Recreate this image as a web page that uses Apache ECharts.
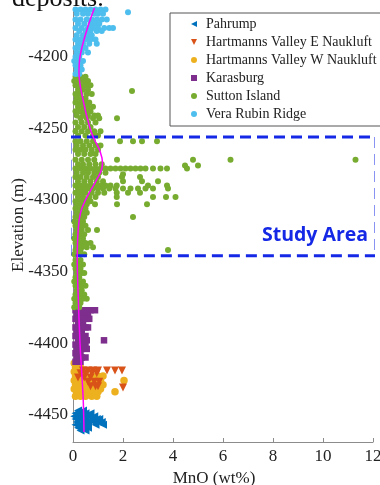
<!DOCTYPE html>
<html>
<head>
<meta charset="utf-8">
<script src="https://cdn.jsdelivr.net/npm/echarts@6/dist/echarts.min.js"></script>
<style>
  html, body { margin: 0; padding: 0; background: #fff; }
  #chart { width: 380px; height: 485px; }
</style>
</head>
<body>
<div id="chart"></div>
<script>
// rows: [elevation, [MnO values at that elevation]]
const pahrumpRows = [
  [-4447, [0.2, 0.4]],
  [-4449, [0.1, 0.3, 0.5, 0.7]],
  [-4451, [0.05, 0.25, 0.45, 0.65, 0.85]],
  [-4453, [0.1, 0.3, 0.5, 0.75, 0.95, 1.05]],
  [-4455, [0.15, 0.4, 0.6, 0.8, 1.0, 1.15]],
  [-4457, [0.1, 0.3, 0.55, 0.9, 1.2]],
  [-4459, [0.2, 0.4, 0.6]],
  [-4461, [0.3, 0.5]]
];
const hvEastRows = [
  [-4419, [0.4, 0.6, 0.8, 1.0, 1.36, 1.68, 1.96]],
  [-4421, [0.3, 0.5, 0.75, 0.95]],
  [-4424, [0.2, 0.45, 0.7]],
  [-4427, [0.6, 0.85, 1.05]],
  [-4430, [0.7, 0.9, 1.0]],
  [-4431, [2.0]]
];
const hvWestRows = [
  [-4414, [0.05, 0.25]],
  [-4417, [0.1, 0.3]],
  [-4420, [0.05, 0.2]],
  [-4423, [0.1, 0.3, 0.5, 0.8, 1.0, 1.2]],
  [-4426, [0.05, 0.25, 0.45, 0.65, 0.9, 1.1, 2.04]],
  [-4429, [0.1, 0.3, 0.5, 0.7, 0.95, 1.2]],
  [-4432, [0.05, 0.25, 0.45, 0.7, 0.9, 1.1]],
  [-4434, [0.15, 0.35, 0.6, 0.85, 1.0, 1.68]],
  [-4437, [0.1, 0.3, 0.5, 0.75, 0.95]]
];
const karasburgRows = [
  [-4377, [0.1, 0.3, 0.5, 0.7, 0.88]],
  [-4380, [0.15, 0.4, 0.6]],
  [-4383, [0.1, 0.3, 0.5, 0.65]],
  [-4386, [0.2, 0.4]],
  [-4389, [0.1, 0.3, 0.5, 0.6]],
  [-4392, [0.15, 0.35]],
  [-4395, [0.1, 0.3, 0.5]],
  [-4398, [0.2, 0.4, 0.55, 1.24]],
  [-4401, [0.1, 0.3, 0.5]],
  [-4404, [0.15, 0.35, 0.55]],
  [-4407, [0.1, 0.3]],
  [-4410, [0.15, 0.35, 0.5]],
  [-4413, [0.1, 0.3]]
];
const suttonRows = [
  [-4214, [0.1, 0.3, 0.5]],
  [-4217, [0.05, 0.25, 0.45, 0.6]],
  [-4220, [0.1, 0.3, 0.5, 0.7]],
  [-4223, [0.2, 0.4, 0.6]],
  [-4224, [2.36]],
  [-4226, [0.1, 0.3, 0.55, 0.75]],
  [-4229, [0.15, 0.35, 0.5]],
  [-4232, [0.1, 0.3, 0.5, 0.65]],
  [-4235, [0.2, 0.4, 0.6, 0.8]],
  [-4238, [0.1, 0.3, 0.5, 0.7]],
  [-4241, [0.15, 0.4, 0.6, 0.85, 1.0]],
  [-4243, [0.3, 0.55, 0.8, 1.05, 1.76]],
  [-4246, [0.1, 0.35, 0.6, 0.9]],
  [-4249, [0.2, 0.45, 0.7]],
  [-4252, [0.1, 0.35, 0.6, 0.85, 1.1]],
  [-4255, [0.2, 0.5, 0.8, 1.0]],
  [-4259, [0.1, 0.3, 0.55, 0.8, 1.88, 2.4, 2.76, 3.36]],
  [-4262, [0.15, 0.4, 0.65, 0.9, 1.1]],
  [-4265, [0.1, 0.3, 0.5, 0.75, 1.0]],
  [-4268, [0.2, 0.45, 0.7, 0.9]],
  [-4272, [0.1, 0.35, 0.6, 0.85, 1.76, 4.8, 6.3, 11.3]],
  [-4275, [0.2, 0.4, 0.65, 0.9, 1.15]],
  [-4278, [0.1, 0.3, 0.5, 0.7, 0.9, 1.1, 1.3, 1.5, 1.7, 1.9, 2.1, 2.3, 2.5, 2.7, 2.9, 3.2, 3.5, 3.76, 4.56]],
  [-4276, [4.48, 5.0]],
  [-4281, [0.15, 0.4, 0.6, 0.85, 1.05, 1.3]],
  [-4282, [2.0]],
  [-4284, [0.1, 0.3, 0.55, 0.8, 1.0, 1.96, 2.68]],
  [-4287, [0.2, 0.45, 0.7, 0.95, 1.2, 2.0, 2.76, 3.4]],
  [-4290, [0.1, 0.3, 0.5, 0.7, 0.9, 1.1, 1.3, 1.5, 1.75, 3.0, 3.76]],
  [-4292, [0.2, 0.4, 0.6, 0.8, 1.0, 1.2, 1.45, 1.7, 2.0, 2.3, 2.6, 2.9, 3.2, 3.8]],
  [-4295, [0.1, 0.3, 0.5, 0.75, 1.0, 1.25, 1.75, 2.2, 2.68]],
  [-4298, [0.2, 0.4, 0.65, 0.9, 1.75, 3.2, 3.72, 4.1]],
  [-4301, [0.1, 0.3, 0.5, 0.7]],
  [-4303, [0.15, 0.35, 0.55, 0.88, 1.76, 2.96]],
  [-4306, [0.1, 0.3, 0.5]],
  [-4309, [0.15, 0.35, 0.55]],
  [-4312, [0.1, 0.3, 0.45, 2.4]],
  [-4315, [0.05, 0.25, 0.4]],
  [-4318, [0.1, 0.3, 0.5]],
  [-4321, [0.15, 0.35, 0.6, 0.96]],
  [-4324, [0.1, 0.3, 0.45]],
  [-4327, [0.05, 0.2, 0.4]],
  [-4330, [0.1, 0.3, 0.5, 0.7]],
  [-4333, [0.15, 0.35, 0.55, 0.8]],
  [-4335, [0.1, 0.3, 3.8]],
  [-4338, [0.05, 0.25, 0.45]],
  [-4342, [0.1, 0.3]],
  [-4345, [0.05, 0.2, 0.4]],
  [-4348, [0.1, 0.3]],
  [-4351, [0.15, 0.35, 0.45]],
  [-4354, [0.1, 0.25]],
  [-4357, [0.05, 0.2, 0.4]],
  [-4360, [0.1, 0.3, 0.5]],
  [-4363, [0.15, 0.35]],
  [-4366, [0.1, 0.3, 0.45]],
  [-4369, [0.05, 0.2, 0.4, 0.55]],
  [-4372, [0.1, 0.3]],
  [-4375, [0.05, 0.25]]
];
const veraRubinRows = [
  [-4167, [0.1, 0.3, 0.5, 0.7, 0.9, 1.1, 1.3]],
  [-4169, [2.2]],
  [-4170, [0.15, 0.4, 0.6, 0.85, 1.0, 1.2]],
  [-4174, [0.1, 0.3, 0.55, 0.75, 0.95, 1.15, 1.35]],
  [-4177, [0.2, 0.45, 0.7, 0.9, 1.05]],
  [-4180, [0.1, 0.35, 0.6, 0.8, 1.0, 1.25, 1.45, 1.6]],
  [-4182, [0.25, 0.5, 0.7, 0.95, 1.15]],
  [-4185, [0.15, 0.4, 0.6, 0.75]],
  [-4188, [0.1, 0.3, 0.5, 0.7, 0.9]],
  [-4191, [0.2, 0.4, 0.65, 0.95]],
  [-4194, [0.1, 0.3, 0.5]],
  [-4197, [0.15, 0.35, 0.6]],
  [-4200, [0.1, 0.25]],
  [-4203, [0.05, 0.2, 0.4]],
  [-4206, [0.1, 0.3]],
  [-4209, [0.15, 0.35]],
  [-4212, [0.1, 0.25]]
];
// smoothed trend [MnO, elevation]
const trendLine = [
  [0.86, -4166], [0.56, -4181], [0.28, -4200], [0.24, -4211], [0.40, -4230],
  [0.68, -4250], [0.86, -4258], [1.08, -4266], [1.18, -4274], [1.12, -4280],
  [0.88, -4288], [0.50, -4300], [0.30, -4309], [0.20, -4323], [0.17, -4342],
  [0.20, -4363], [0.28, -4400], [0.35, -4421], [0.41, -4440], [0.44, -4462]
];
const studyArea = [[-0.12, -4256], [12.12, -4256], [12.12, -4339], [-0.12, -4339], [-0.12, -4256]];
const xTicks = [0, 2, 4, 6, 8, 10, 12];
const yTicks = [-4450, -4400, -4350, -4300, -4250, -4200];

const toPoints = rows => rows.flatMap(([e, xs]) => xs.map(x => [x, e]));

const serif = 'Liberation Serif, Times New Roman, serif';
const leftTri = 'path://M2,0 L2,2 L0,1 Z';
const downTri = 'path://M0,0 L2,0 L1,2 Z';

const chart = echarts.init(document.getElementById('chart'));

const scatter = (name, rows, symbol, size, color) => ({
  name,
  type: 'scatter',
  data: toPoints(rows),
  symbol,
  symbolSize: size,
  itemStyle: { color, opacity: 1 },
  animation: false
});

chart.setOption({
  animation: false,
  grid: { left: 73, right: 7, top: 8, bottom: 43, containLabel: false, outerBoundsMode: 'none' },
  xAxis: {
    type: 'value',
    min: 0,
    max: 12,
    interval: 2,
    name: 'MnO (wt%)',
    nameLocation: 'middle',
    nameGap: 28,
    nameMoveOverlap: false,
    nameTextStyle: { fontFamily: serif, fontSize: 17, color: '#222', padding: [0, 18, 0, 0] },
    axisLine: { lineStyle: { color: '#8c8c8c', width: 1 } },
    axisTick: { inside: true, length: 4, lineStyle: { color: '#8c8c8c' } },
    axisLabel: { fontFamily: serif, fontSize: 17, color: '#222', margin: 6, formatter: v => String(v) },
    splitLine: { show: false }
  },
  yAxis: {
    type: 'value',
    min: -4469,
    max: -4166,
    name: 'Elevation (m)',
    nameLocation: 'middle',
    nameGap: 46,
    nameMoveOverlap: false,
    nameTextStyle: { fontFamily: serif, fontSize: 17, color: '#222' },
    axisLine: { show: true, lineStyle: { color: '#8c8c8c', width: 1 } },
    axisTick: { show: true, inside: true, length: 4, customValues: yTicks, lineStyle: { color: '#8c8c8c' } },
    axisLabel: { fontFamily: serif, fontSize: 17, color: '#222', margin: 5, customValues: yTicks, formatter: v => String(v) },
    splitLine: { show: false }
  },
  legend: {
    orient: 'vertical',
    left: 170,
    top: 13,
    padding: [4, 5, 5, 21],
    itemGap: 4,
    itemWidth: 6,
    itemHeight: 6,
    backgroundColor: '#fff',
    borderColor: '#555',
    borderWidth: 1,
    borderRadius: 0,
    textStyle: { fontFamily: serif, fontSize: 14, color: '#222', lineHeight: 14, padding: [0, 0, 0, 4] },
    data: [
      { name: 'Pahrump', icon: leftTri },
      { name: 'Hartmanns Valley E Naukluft', icon: downTri },
      { name: 'Hartmanns Valley W Naukluft', icon: 'circle' },
      { name: 'Karasburg', icon: 'rect' },
      { name: 'Sutton Island', icon: 'circle' },
      { name: 'Vera Rubin Ridge', icon: 'circle' }
    ]
  },
  graphic: [
    {
      type: 'text',
      left: 12,
      top: -14,
      style: { text: 'deposits.', font: '26px ' + serif, fill: '#111' }
    },
    {
      type: 'text',
      left: 262,
      top: 225,
      z: 10,
      style: { text: 'Study Area', font: 'bold 19.5px "Open Sans", Lato, sans-serif', fill: '#1428e6' }
    }
  ],
  series: [
    scatter('Pahrump', pahrumpRows, leftTri, 8, '#0072BD'),
    scatter('Hartmanns Valley W Naukluft', hvWestRows, 'circle', 7.5, '#EDB120'),
    scatter('Hartmanns Valley E Naukluft', hvEastRows, downTri, 8, '#D95319'),
    scatter('Karasburg', karasburgRows, 'rect', 6.5, '#7E2F8E'),
    scatter('Sutton Island', suttonRows, 'circle', 6, '#77AC30'),
    scatter('Vera Rubin Ridge', veraRubinRows, 'circle', 6, '#4DBEEE'),
    {
      name: 'studyBox',
      type: 'line',
      data: studyArea,
      symbol: 'none',
      clip: false,
      lineStyle: { color: '#1428e6', width: 3, type: [11, 6] },
      z: 5
    },
    {
      name: 'trend',
      type: 'line',
      data: trendLine,
      symbol: 'none',
      smooth: 0.4,
      lineStyle: { color: '#ff00ff', width: 1.5 },
      z: 6
    }
  ]
});
</script>
</body>
</html>
